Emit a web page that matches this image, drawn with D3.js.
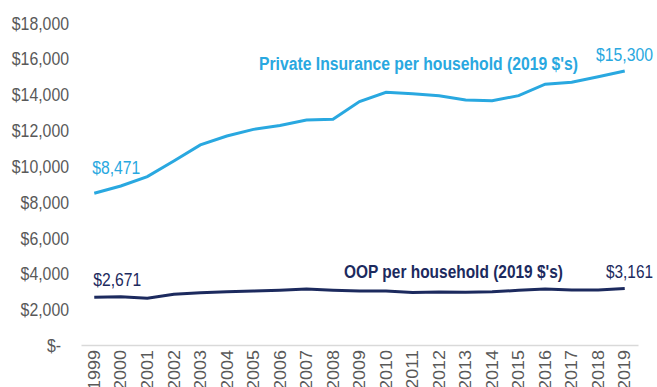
<!DOCTYPE html>
<html>
  <head>
    <meta charset="utf-8">
    <script src="https://d3js.org/d3.v7.min.js"></script>
    <style>
      body { margin: 0; background: #fff; }
      text { font-family: "Liberation Sans", Arial, sans-serif; }
    </style>
  </head>
  <body>
    <div id="my_dataviz"></div>
    <script>
    // data
    var years = ["1999","2000","2001","2002","2003","2004","2005","2006","2007","2008","2009",
                 "2010","2011","2012","2013","2014","2015","2016","2017","2018","2019"];
    var privateIns = [8471, 8880, 9400, 10270, 11170, 11670, 12040, 12260, 12560, 12600, 13590,
                      14110, 14030, 13920, 13680, 13640, 13920, 14560, 14670, 14980, 15300];
    var oop = [2671, 2700, 2610, 2830, 2920, 2975, 3015, 3060, 3120, 3055, 3015,
               3015, 2925, 2960, 2940, 2975, 3050, 3120, 3070, 3075, 3161];
    var yTicks = [0, 2000, 4000, 6000, 8000, 10000, 12000, 14000, 16000, 18000];

    var width = 657, height = 387;
    var blue = "#29A8E0", navy = "#1C2A5E", grey = "#595959";
    var sx = 0.88; // the original text is a little condensed

    var svg = d3.select("#my_dataviz")
      .append("svg")
      .attr("width", width)
      .attr("height", height);

    var x = d3.scaleBand()
      .domain(years)
      .range([81, 638]);

    var y = d3.scaleLinear()
      .domain([0, 18000])
      .range([345, 22.6]);

    var cx = function (d, i) { return x(years[i]) + x.bandwidth() / 2; };

    // Y axis
    var fmt = d3.format(",");
    var yAxis = svg.append("g")
      .attr("transform", "translate(69,0)")
      .call(d3.axisLeft(y)
        .tickValues(yTicks)
        .tickSize(0)
        .tickPadding(0)
        .tickFormat(function (d) { return d === 0 ? "$-" : "$" + fmt(d); }));
    yAxis.select(".domain").remove();
    yAxis.selectAll("text")
      .attr("fill", grey)
      .attr("font-size", "18px")
      .attr("dy", "0.36em")
      .attr("x", function (d) { return d === 0 ? -9 : 0; })
      .attr("transform", "scale(" + sx + ",1)");

    // X axis
    var xAxis = svg.append("g")
      .attr("transform", "translate(0,345)")
      .call(d3.axisBottom(x).tickSize(0).tickPadding(0));
    xAxis.select(".domain")
      .attr("stroke", "#D9D9D9")
      .attr("stroke-width", 1.5);
    xAxis.selectAll("text")
      .attr("fill", grey)
      .attr("font-size", "18px")
      .attr("text-anchor", "end")
      .attr("x", -5)
      .attr("y", 0)
      .attr("dy", "0.36em")
      .attr("transform", "rotate(-90) scale(1," + sx + ")");

    // lines
    var line = d3.line().x(cx).y(function (d) { return y(d); });

    svg.append("path")
      .datum(privateIns)
      .attr("fill", "none")
      .attr("stroke", blue)
      .attr("stroke-width", 3)
      .attr("d", line);

    svg.append("path")
      .datum(oop)
      .attr("fill", "none")
      .attr("stroke", navy)
      .attr("stroke-width", 3)
      .attr("d", line);

    // labels
    function label(txt, px, py, color, bold, len) {
      var t = svg.append("text")
        .attr("x", px)
        .attr("y", py)
        .attr("fill", color)
        .attr("font-size", "18px")
        .attr("font-weight", bold ? "bold" : "normal")
        .text(txt);
      if (len) t.attr("textLength", len).attr("lengthAdjust", "spacingAndGlyphs");
      return t;
    }
    var last = years.length - 1;
    label("$" + fmt(privateIns[0]), cx(0, 0) - 2, 174, blue, false, 48);
    label("$" + fmt(privateIns[last]), 596, 61, blue, false, 57);
    label("Private Insurance per household (2019 $'s)", 259, 70, blue, true, 319);
    label("$" + fmt(oop[0]), cx(0, 0) - 1, 286, navy, false, 48);
    label("$" + fmt(oop[last]), 606, 278, navy, false, 47);
    label("OOP per household (2019 $'s)", 344, 278, navy, true, 219);
    </script>
  </body>
</html>
